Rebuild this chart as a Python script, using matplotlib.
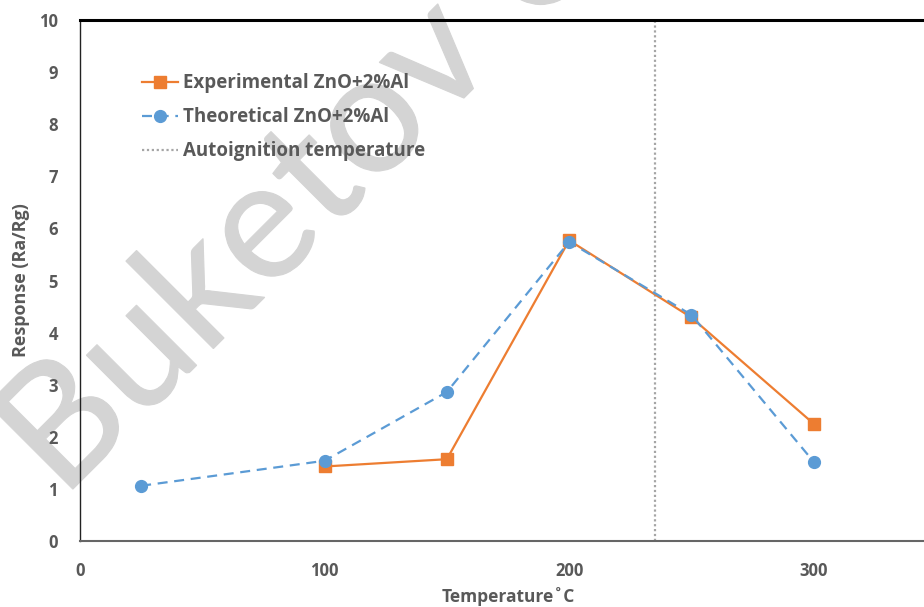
import matplotlib.pyplot as plt
from matplotlib.textpath import TextPath
from matplotlib.patches import PathPatch
from matplotlib.font_manager import FontProperties
from matplotlib.transforms import Affine2D

# data
temp_exp = [100, 150, 200, 250, 300]
resp_exp = [1.43, 1.57, 5.77, 4.29, 2.25]

temp_theo = [25, 100, 150, 200, 250, 300]
resp_theo = [1.06, 1.54, 2.86, 5.74, 4.34, 1.52]

autoignition_temp = 235

x_ticks = [0, 100, 200, 300]
y_ticks = list(range(0, 11))

plt.rcParams['font.family'] = ['Open Sans', 'DejaVu Sans']
grey = '#595959'

fig = plt.figure(figsize=(9.24, 6.07), dpi=100)
# axes run past the right edge, the reference is cropped there
ax = fig.add_axes([80 / 924, 66 / 607, 856 / 924, 521 / 607])
ax.set_zorder(1)

# watermark: rotated text outline behind the axes
wm_path = TextPath((0, 0), 'Buketov University', size=168,
                   prop=FontProperties(family='Lato', weight='normal'))
wm_trans = Affine2D().rotate_deg(45).translate(62, 607 - 500)
fig.add_artist(PathPatch(wm_path, transform=wm_trans, facecolor='#d4d4d4',
                         edgecolor='#d4d4d4', lw=0.8, zorder=0))

ax.plot(temp_exp, resp_exp, color='#ED7D31', lw=1.6, marker='s', ms=8.5,
        label='Experimental ZnO+2%Al', zorder=3)
ax.plot(temp_theo, resp_theo, color='#5B9BD5', lw=1.6, ls=(0, (4.5, 3)),
        marker='o', ms=8.5, label='Theoretical ZnO+2%Al', zorder=4)
ax.axvline(autoignition_temp, color='#A5A5A5', lw=1.6, ls=(0, (1, 1.2)),
           label='Autoignition temperature', zorder=2)

ax.set_xlim(0, 350)
ax.set_ylim(0, 10)
ax.set_xticks(x_ticks)
ax.set_yticks(y_ticks)
ax.tick_params(length=0, labelsize=12, labelcolor=grey)
ax.tick_params(axis='y', pad=16)
ax.tick_params(axis='x', pad=15)
for lab in ax.get_xticklabels() + ax.get_yticklabels():
    lab.set_fontweight('bold')

ax.set_xlabel('Temperature˚C', fontsize=12.5, fontweight='bold', color=grey,
              labelpad=5)
ax.set_ylabel('Response (Ra/Rg)', fontsize=13, fontweight='bold',
              color=grey, labelpad=6)

ax.patch.set_alpha(0)
ax.spines['right'].set_visible(False)
ax.spines['top'].set_color('black')
ax.spines['top'].set_linewidth(2.2)
ax.spines['left'].set_color('#222222')
ax.spines['left'].set_linewidth(1.0)
ax.spines['bottom'].set_color('#666666')
ax.spines['bottom'].set_linewidth(1.5)

leg = ax.legend(loc='upper left', bbox_to_anchor=(0.053, 0.93), frameon=False,
                handlelength=1.9, handletextpad=0.27, labelspacing=0.74,
                prop={'size': 13.5, 'weight': 'bold'})
for t in leg.get_texts():
    t.set_color(grey)

fig.savefig('out.png', dpi=100)
